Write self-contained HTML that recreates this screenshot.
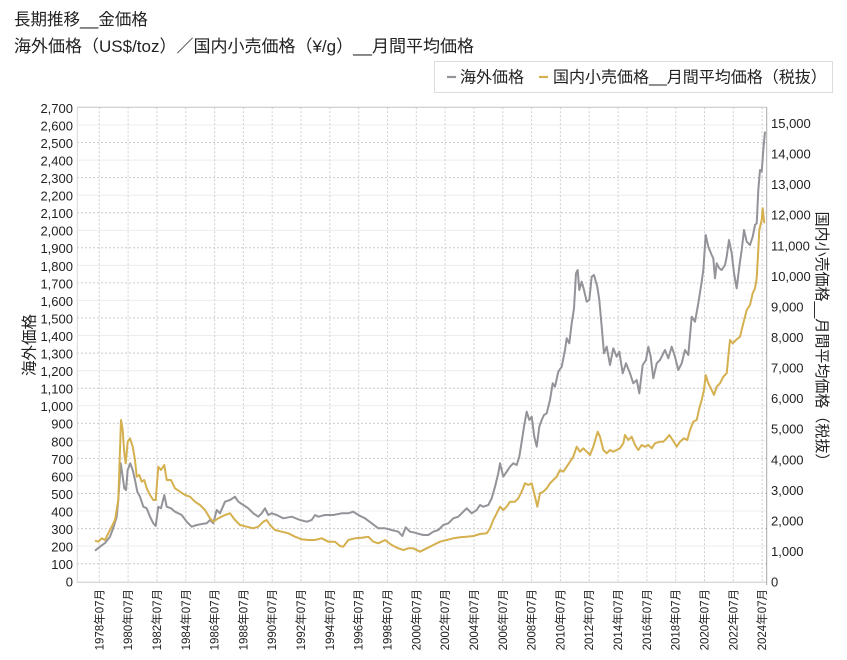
<!DOCTYPE html>
<html><head><meta charset="utf-8"><style>
html,body{margin:0;padding:0;background:#fff;}
svg{display:block;}
text{font-family:"Liberation Sans","Noto Sans CJK JP",sans-serif;fill:#222;}
</style></head><body>
<svg width="847" height="660" viewBox="0 0 847 660" xmlns="http://www.w3.org/2000/svg">
<rect width="847" height="660" fill="#fff"/>
<text x="14" y="25" font-size="16.5">長期推移__金価格</text>
<text x="14" y="52" font-size="17">海外価格（US$/toz）／国内小売価格（¥/g）__月間平均価格</text>
<rect x="434.5" y="61.5" width="398" height="31" fill="#fff" stroke="#dcdcdc"/>
<line x1="447" y1="77" x2="456" y2="77" stroke="#939399" stroke-width="2.2"/>
<text x="460" y="82.5" font-size="16">海外価格</text>
<line x1="539" y1="77" x2="548" y2="77" stroke="#d5b04f" stroke-width="2.2"/>
<text x="553" y="82.5" font-size="16">国内小売価格__月間平均価格（税抜）</text>
<g stroke-width="1" fill="none">
<g stroke="#ececec">
<line x1="77" y1="125" x2="766.7" y2="125"/><line x1="77" y1="160.1" x2="766.7" y2="160.1"/><line x1="77" y1="195.2" x2="766.7" y2="195.2"/><line x1="77" y1="230.2" x2="766.7" y2="230.2"/><line x1="77" y1="265.4" x2="766.7" y2="265.4"/><line x1="77" y1="300.4" x2="766.7" y2="300.4"/><line x1="77" y1="335.5" x2="766.7" y2="335.5"/><line x1="77" y1="370.6" x2="766.7" y2="370.6"/><line x1="77" y1="405.7" x2="766.7" y2="405.7"/><line x1="77" y1="440.8" x2="766.7" y2="440.8"/><line x1="77" y1="475.9" x2="766.7" y2="475.9"/><line x1="77" y1="511" x2="766.7" y2="511"/><line x1="77" y1="546.1" x2="766.7" y2="546.1"/>
</g>
<g stroke="#c9c9c9" stroke-dasharray="2,2">
<line x1="77" y1="142.5" x2="766.7" y2="142.5"/><line x1="77" y1="177.6" x2="766.7" y2="177.6"/><line x1="77" y1="212.7" x2="766.7" y2="212.7"/><line x1="77" y1="247.8" x2="766.7" y2="247.8"/><line x1="77" y1="282.9" x2="766.7" y2="282.9"/><line x1="77" y1="318" x2="766.7" y2="318"/><line x1="77" y1="353.1" x2="766.7" y2="353.1"/><line x1="77" y1="388.2" x2="766.7" y2="388.2"/><line x1="77" y1="423.3" x2="766.7" y2="423.3"/><line x1="77" y1="458.4" x2="766.7" y2="458.4"/><line x1="77" y1="493.5" x2="766.7" y2="493.5"/><line x1="77" y1="528.6" x2="766.7" y2="528.6"/><line x1="77" y1="563.7" x2="766.7" y2="563.7"/>
</g>
<g stroke="#cfcfcf" stroke-dasharray="2,2">
<line x1="99.3" y1="107.3" x2="99.3" y2="582.3"/><line x1="128.1" y1="107.3" x2="128.1" y2="582.3"/><line x1="156.9" y1="107.3" x2="156.9" y2="582.3"/><line x1="185.8" y1="107.3" x2="185.8" y2="582.3"/><line x1="214.6" y1="107.3" x2="214.6" y2="582.3"/><line x1="243.4" y1="107.3" x2="243.4" y2="582.3"/><line x1="272.2" y1="107.3" x2="272.2" y2="582.3"/><line x1="301" y1="107.3" x2="301" y2="582.3"/><line x1="329.9" y1="107.3" x2="329.9" y2="582.3"/><line x1="358.7" y1="107.3" x2="358.7" y2="582.3"/><line x1="387.5" y1="107.3" x2="387.5" y2="582.3"/><line x1="416.3" y1="107.3" x2="416.3" y2="582.3"/><line x1="445.1" y1="107.3" x2="445.1" y2="582.3"/><line x1="474" y1="107.3" x2="474" y2="582.3"/><line x1="502.8" y1="107.3" x2="502.8" y2="582.3"/><line x1="531.6" y1="107.3" x2="531.6" y2="582.3"/><line x1="560.4" y1="107.3" x2="560.4" y2="582.3"/><line x1="589.2" y1="107.3" x2="589.2" y2="582.3"/><line x1="618.1" y1="107.3" x2="618.1" y2="582.3"/><line x1="646.9" y1="107.3" x2="646.9" y2="582.3"/><line x1="675.7" y1="107.3" x2="675.7" y2="582.3"/><line x1="704.5" y1="107.3" x2="704.5" y2="582.3"/><line x1="733.3" y1="107.3" x2="733.3" y2="582.3"/><line x1="762.2" y1="107.3" x2="762.2" y2="582.3"/>
</g>
<line x1="77" y1="107.3" x2="766.7" y2="107.3" stroke="#c4c4c4"/>
<line x1="77.3" y1="107.3" x2="77.3" y2="582.3" stroke="#d8d8d8"/>
<line x1="77" y1="582.3" x2="766.7" y2="582.3" stroke="#c8c8c8"/>
<line x1="766.7" y1="107.3" x2="766.7" y2="585" stroke="#a8a8a8"/>
</g>
<g font-size="13" text-anchor="end">
<text x="73" y="112.8">2,700</text><text x="73" y="130.3">2,600</text><text x="73" y="147.9">2,500</text><text x="73" y="165.4">2,400</text><text x="73" y="183">2,300</text><text x="73" y="200.6">2,200</text><text x="73" y="218.1">2,100</text><text x="73" y="235.7">2,000</text><text x="73" y="253.2">1,900</text><text x="73" y="270.8">1,800</text><text x="73" y="288.3">1,700</text><text x="73" y="305.9">1,600</text><text x="73" y="323.4">1,500</text><text x="73" y="341">1,400</text><text x="73" y="358.5">1,300</text><text x="73" y="376.1">1,200</text><text x="73" y="393.6">1,100</text><text x="73" y="411.2">1,000</text><text x="73" y="428.7">900</text><text x="73" y="446.3">800</text><text x="73" y="463.8">700</text><text x="73" y="481.4">600</text><text x="73" y="498.9">500</text><text x="73" y="516.5">400</text><text x="73" y="534">300</text><text x="73" y="551.6">200</text><text x="73" y="569.1">100</text><text x="73" y="586.7">0</text>
</g>
<g font-size="13">
<text x="771" y="128">15,000</text><text x="771" y="158.6">14,000</text><text x="771" y="189.1">13,000</text><text x="771" y="219.7">12,000</text><text x="771" y="250.3">11,000</text><text x="771" y="280.8">10,000</text><text x="771" y="311.4">9,000</text><text x="771" y="342">8,000</text><text x="771" y="372.6">7,000</text><text x="771" y="403.1">6,000</text><text x="771" y="433.7">5,000</text><text x="771" y="464.3">4,000</text><text x="771" y="494.8">3,000</text><text x="771" y="525.4">2,000</text><text x="771" y="556">1,000</text><text x="771" y="586.7">0</text>
</g>
<g font-size="11.5" text-anchor="end">
<text transform="translate(99.3,589) rotate(-90)" dy=".35em">1978年07月</text>
<text transform="translate(128.1,589) rotate(-90)" dy=".35em">1980年07月</text>
<text transform="translate(156.9,589) rotate(-90)" dy=".35em">1982年07月</text>
<text transform="translate(185.8,589) rotate(-90)" dy=".35em">1984年07月</text>
<text transform="translate(214.6,589) rotate(-90)" dy=".35em">1986年07月</text>
<text transform="translate(243.4,589) rotate(-90)" dy=".35em">1988年07月</text>
<text transform="translate(272.2,589) rotate(-90)" dy=".35em">1990年07月</text>
<text transform="translate(301,589) rotate(-90)" dy=".35em">1992年07月</text>
<text transform="translate(329.9,589) rotate(-90)" dy=".35em">1994年07月</text>
<text transform="translate(358.7,589) rotate(-90)" dy=".35em">1996年07月</text>
<text transform="translate(387.5,589) rotate(-90)" dy=".35em">1998年07月</text>
<text transform="translate(416.3,589) rotate(-90)" dy=".35em">2000年07月</text>
<text transform="translate(445.1,589) rotate(-90)" dy=".35em">2002年07月</text>
<text transform="translate(474,589) rotate(-90)" dy=".35em">2004年07月</text>
<text transform="translate(502.8,589) rotate(-90)" dy=".35em">2006年07月</text>
<text transform="translate(531.6,589) rotate(-90)" dy=".35em">2008年07月</text>
<text transform="translate(560.4,589) rotate(-90)" dy=".35em">2010年07月</text>
<text transform="translate(589.2,589) rotate(-90)" dy=".35em">2012年07月</text>
<text transform="translate(618.1,589) rotate(-90)" dy=".35em">2014年07月</text>
<text transform="translate(646.9,589) rotate(-90)" dy=".35em">2016年07月</text>
<text transform="translate(675.7,589) rotate(-90)" dy=".35em">2018年07月</text>
<text transform="translate(704.5,589) rotate(-90)" dy=".35em">2020年07月</text>
<text transform="translate(733.3,589) rotate(-90)" dy=".35em">2022年07月</text>
<text transform="translate(762.2,589) rotate(-90)" dy=".35em">2024年07月</text>
</g>
<text transform="translate(29,345) rotate(-90)" dy=".35em" font-size="15.5" text-anchor="middle">海外価格</text>
<text transform="translate(822,340) rotate(90)" dy=".35em" font-size="15" text-anchor="middle">国内小売価格__月間平均価格（税抜）</text>
<polyline fill="none" stroke="#939399" stroke-width="2" stroke-linejoin="round" points="95,550.7 100,546.7 105,543 110,536.7 113.3,528 116.7,516.7 118.3,500 120.7,463.3 122.7,476.7 124.3,488.3 126,490 127.7,470 130.3,463.3 132.7,470 135,480 137.3,491.7 140,496.7 143.3,506.7 146.7,508.3 150,516.7 153.3,523.3 155.7,526 158.3,506.7 161,508.3 164.3,495 166.7,506.7 171,508.3 175,511.7 181.7,515 186.7,521.7 191.7,526.7 196.7,525 201.7,524 206.7,523.3 210,520 213.3,523.3 216.7,510 220,513.3 225,501.7 230,500 235,496.7 238.3,501.7 243.3,505 248.3,508.3 253.3,513.3 258.3,516.7 261.7,513.3 265,508.3 268.3,515 271.7,513.3 276.7,515 283.3,518.3 291.7,516.7 300,520 306.7,521.7 311.7,520 315,515 318.3,516.7 325,515 333.3,515 341.7,513.3 348.3,513.3 353.3,511.7 358.3,515 365,518.3 371.7,523.3 378.3,528.3 385,528.3 391.7,530 398.3,531.7 402.3,536 405.7,527.3 410,531.7 415,532.7 416.7,533.3 423.3,535 428.3,535 433.3,531.7 438.3,530 443.3,525 448.3,523.3 453.3,518.3 458.3,516.7 463.3,511.7 466.7,508.3 471.7,513.3 476.7,510 480,505 483.3,506.7 488.3,505 491.7,498.3 495,486.7 498.3,473.3 500,463.3 503.3,476.7 506.7,471.7 510,466.7 513.3,463.3 516.7,465 519.3,456.7 521.7,441.7 524,426.7 526.7,411.7 529.3,420 531.7,416.7 534.3,436.7 536.7,446.7 539.3,426.7 541.7,420 544,415 546.7,413.3 550,400 552.7,383.3 555,386.7 558.3,371.7 561.7,366.7 565,350 566.7,338.3 569.3,343.3 571.7,323.3 574,308.3 576,273.3 577.7,270 579.3,290 581.7,281.7 584,290 586.7,301.7 589.3,300 591.7,276.7 594,275 597.3,286.7 599.3,300 601.7,326.7 604,353.3 606.7,346.7 610,365 613.3,348.3 616.7,356.7 619.3,351.7 622.7,373.3 626,363.3 630,373.3 633.3,383.3 636.7,380 639.3,393.3 642.7,365 646,360 648.3,346.7 650.7,356.7 653.3,378.3 656.7,363.3 660,360 661.7,356.7 665,350 668.3,358.3 671.7,346.7 675,356.7 678.3,370 681.7,363.3 685,350 688.3,355 691.7,316.7 695,321.7 698.3,303.3 701.7,281.7 703.3,270 705.7,235 708.3,246.7 711.7,255 713.3,258.3 715,278.3 716.7,263.3 719.3,268.3 721.7,270 725,265 726.7,256.7 729,240 731.7,253.3 734,273.3 736.7,288.3 739.3,266.7 741.7,250 744,230 746.7,241.7 750,245 752.7,236.7 755,225 756.7,223.3 758.3,190 760,170 761.7,171.7 763.3,150 765,131.7"/>
<polyline fill="none" stroke="#d5b04f" stroke-width="2" stroke-linejoin="round" points="95,540.7 98.3,541.7 101.7,538.3 105,540 108.3,533.3 111.7,526.7 115,520 118.3,500 120,450 121,420 122.7,430 124.3,453.3 125.7,463.3 127.7,441.7 130,438.3 132.7,446.7 135,460 136.7,476.7 139.3,475 141.7,481.7 144.3,480 146.7,488.3 150,495 153.3,500 155.7,500 158.3,466.7 161,470 164.3,465 166.7,480 171,480 175,488.3 180,491.7 185,495 190,496.7 195,501.7 200,505 205,510 210,518.3 213.3,521.7 218.3,518.3 225,515 230,513.3 235,520 240,525 246.7,526.7 253.3,528.3 258.3,526.7 263.3,521.7 266.7,520 270,525 275,530 281.7,531.7 288.3,533.3 295,536.7 301.7,539.3 308.3,540 315,540 321.7,538.3 328.3,541.7 335,541.7 340,546 343.3,546.7 348.3,540 355,538.3 361.7,537.7 368.3,536.7 373.3,541.7 378.3,543.3 385,540 391.7,545 398.3,548.3 403.3,550 408.3,548.3 413.3,548.3 420,551.7 426.7,548.3 433.3,545 440,541.7 446.7,540 453.3,538.3 460,537.3 466.7,536.7 473.3,536 480,534 486.7,533.3 490,528.3 493.3,520 496.7,513.3 500,506.7 503.3,510 506.7,506.7 510,501.7 515,501.7 518.3,498.3 521.7,491.7 525,483.3 528.3,485 531.7,483.3 535,496.7 537.3,506.7 540,493.3 543.3,491.7 546.7,488.3 550,483.3 553.3,480 556.7,476.7 560,470 563.3,471.7 566.7,466.7 570,461.7 573.3,456.7 576.7,446.7 580,451.7 583.3,448.3 586.7,451.7 590,455 593.3,446.7 597.7,431.7 600,436.7 603.3,450 606.7,453.3 610,450 613.3,451.7 616.7,450 620,448.3 623.3,443.3 625,435 628.3,440 631.7,436.7 635,445 638.3,450 641.7,445 645,446.7 648.3,445 651.7,448.3 655,443.3 660,441.7 663.3,441.7 666.7,438.3 669.3,435 672.7,440 676.7,446.7 680,441.7 684,438.3 687.3,440 690,430 693.3,421.7 696.7,420 699.3,408.3 701.7,400 704,390 705.7,375 708.3,383.3 711.7,390 714,395 716.7,386.7 720,383.3 723.3,376.7 726.7,373.3 728.3,356.7 730,340 732.7,343.3 736,340 740,336.7 743.3,323.3 746.7,310 750,305 752.7,293.3 755,288.3 756.7,278.3 758.3,250 759.3,230 761.7,220 762.7,208.3 764.3,223.3"/>
</svg>
</body></html>
